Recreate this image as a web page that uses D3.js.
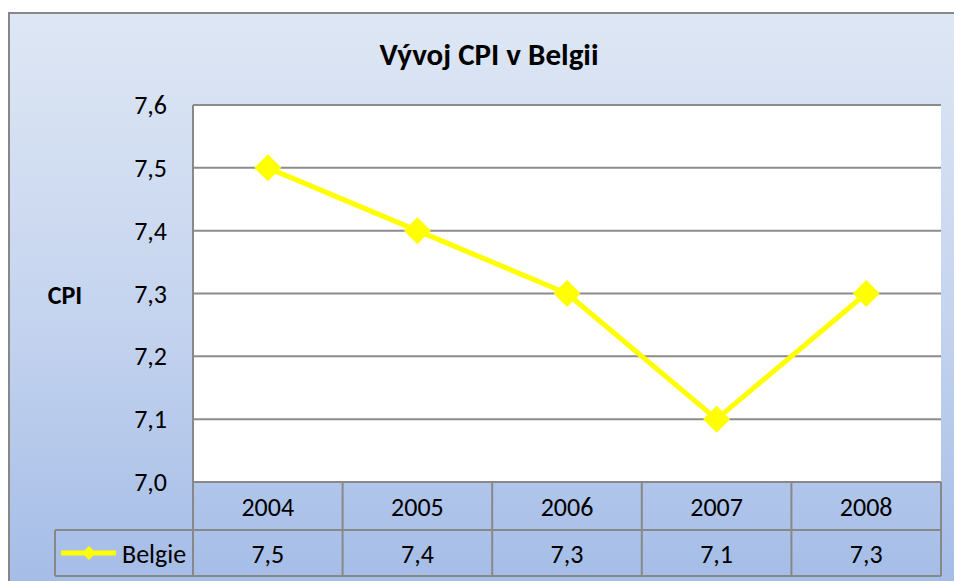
<!DOCTYPE html>
<html><head><meta charset="utf-8">
<script src="https://cdn.jsdelivr.net/npm/d3@7/dist/d3.min.js"></script>
<style>
html,body{margin:0;padding:0;background:#fff;}
svg{display:block;}
text{font-family:Calibri,Carlito,Lato,"Liberation Sans",sans-serif;}
</style></head>
<body>
<svg id="c" width="954" height="581"></svg>
<script>
const title = "Vývoj CPI v Belgii";
const yAxisTitle = "CPI";
const seriesName = "Belgie";
const years = ["2004","2005","2006","2007","2008"];
const values = [7.5, 7.4, 7.3, 7.1, 7.3];
const yTicks = [7.0, 7.1, 7.2, 7.3, 7.4, 7.5, 7.6];

const svg = d3.select("#c");
const fmt = v => d3.format(".1f")(v).replace(".", ",");

const defs = svg.append("defs");
const g = defs.append("linearGradient").attr("id","bg").attr("x1",0).attr("y1",0).attr("x2",0).attr("y2",1);
g.append("stop").attr("offset","0%").attr("stop-color","#dee7f4");
g.append("stop").attr("offset","50%").attr("stop-color","#c5d4ef");
g.append("stop").attr("offset","100%").attr("stop-color","#a1bae6");

svg.append("rect").attr("x",9).attr("y",13).attr("width",960).attr("height",600)
  .attr("fill","url(#bg)").attr("stroke","#878787").attr("stroke-width",2);

const L = 193, R = 941, T = 105, B = 482;
const x = d3.scaleBand().domain(years).range([L, R]).padding(0);
const y = d3.scaleLinear().domain([7.0, 7.6]).range([B, T]);

svg.append("rect").attr("x",L).attr("y",T).attr("width",R-L).attr("height",B-T).attr("fill","#ffffff");

svg.append("g").selectAll("line").data(yTicks.slice(1)).join("line")
  .attr("x1",L).attr("x2",R).attr("y1",d=>y(d)).attr("y2",d=>y(d))
  .attr("stroke","#8c8c8c").attr("stroke-width",2);

svg.append("g").selectAll("text").data(yTicks).join("text")
  .attr("x",167).attr("y",d=>y(d)).attr("dy","0.35em").attr("text-anchor","end")
  .attr("font-size",26).attr("fill","#000").text(fmt);

svg.append("text").attr("x",65).attr("y",295).attr("dy","0.35em").attr("text-anchor","middle")
  .attr("font-size",26).attr("font-weight","bold").text(yAxisTitle);

svg.append("text").attr("x",489).attr("y",54).attr("dy","0.35em").attr("text-anchor","middle")
  .attr("font-size",31).attr("font-weight","bold").text(title);

const r1T = B, r1B = 530, r2B = 576, legL = 55;
const tg = svg.append("g").attr("stroke","#888888").attr("stroke-width",2).attr("fill","none");
tg.append("line").attr("x1",L).attr("x2",R).attr("y1",r1T).attr("y2",r1T);
tg.append("line").attr("x1",legL).attr("x2",R).attr("y1",r1B).attr("y2",r1B);
tg.append("line").attr("x1",legL).attr("x2",R).attr("y1",r2B).attr("y2",r2B);
tg.append("line").attr("x1",legL).attr("x2",legL).attr("y1",r1B).attr("y2",r2B);
tg.append("line").attr("x1",L).attr("x2",L).attr("y1",T).attr("y2",r2B);
tg.selectAll("line.col").data(years).join("line").attr("class","col")
  .attr("x1",d=>x(d)+x.bandwidth()).attr("x2",d=>x(d)+x.bandwidth())
  .attr("y1",r1T).attr("y2",r2B);

svg.append("g").selectAll("text").data(years).join("text")
  .attr("x",d=>x(d)+x.bandwidth()/2).attr("y",(r1T+r1B)/2+1).attr("dy","0.35em")
  .attr("text-anchor","middle").attr("font-size",26).text(d=>d);
svg.append("g").selectAll("text").data(values).join("text")
  .attr("x",(d,i)=>x(years[i])+x.bandwidth()/2).attr("y",(r1B+r2B)/2+1).attr("dy","0.35em")
  .attr("text-anchor","middle").attr("font-size",26).text(fmt);

const diamond = h => `M0,${-h}L${h},0L0,${h}L${-h},0Z`;

const ky = (r1B+r2B)/2;
svg.append("line").attr("x1",61).attr("x2",116).attr("y1",ky).attr("y2",ky)
  .attr("stroke","#ffff00").attr("stroke-width",5);
svg.append("path").attr("d",diamond(7)).attr("transform",`translate(89,${ky})`).attr("fill","#ffff00");
svg.append("text").attr("x",122).attr("y",ky+1).attr("dy","0.35em").attr("font-size",26).text(seriesName);

const pts = values.map((v,i)=>[x(years[i])+x.bandwidth()/2, y(v)]);
svg.append("path").attr("d",d3.line()(pts)).attr("fill","none")
  .attr("stroke","#ffff00").attr("stroke-width",5).attr("stroke-linejoin","round");
svg.append("g").selectAll("path").data(pts).join("path")
  .attr("d",diamond(13.5)).attr("transform",d=>`translate(${d[0]},${d[1]})`).attr("fill","#ffff00");
</script>
</body></html>
